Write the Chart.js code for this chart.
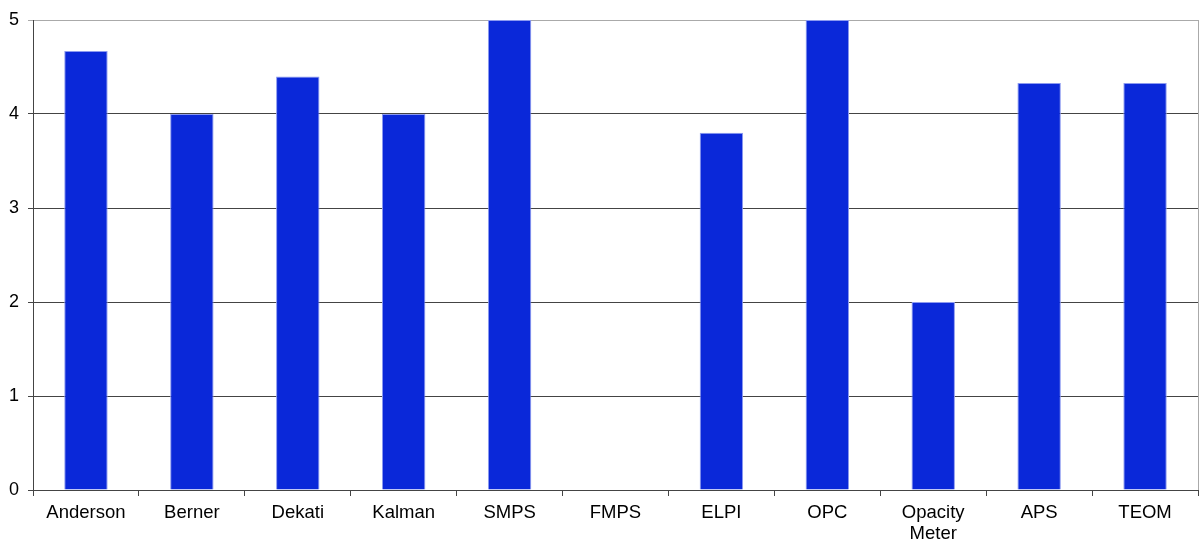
<!DOCTYPE html>
<html>
<head>
<meta charset="utf-8">
<script src="https://cdn.jsdelivr.net/npm/chart.js@4/dist/chart.umd.min.js"></script>
<style>
  html, body { margin: 0; padding: 0; background: #fff; }
  #wrap { width: 1203px; height: 540px; position: relative; }
</style>
</head>
<body>
<div id="wrap"><canvas id="barChart"></canvas></div>
<script>
const categories = ["Anderson", "Berner", "Dekati", "Kalman", "SMPS", "FMPS", "ELPI", "OPC", ["Opacity", "Meter"], "APS", "TEOM"];
const scores = [4.67, 4, 4.4, 4, 5, 0, 3.8, 5, 2, 4.33, 4.33];
const yTicks = [0, 1, 2, 3, 4, 5];

// light frame on the right side of the plot
const frame = {
    id: "frame",
    afterDraw(chart) {
        const { ctx, chartArea } = chart;
        ctx.save();
        ctx.strokeStyle = "#aaaaaa";
        ctx.lineWidth = 1;
        ctx.beginPath();
        ctx.moveTo(Math.round(chartArea.right) + 0.5, chartArea.top);
        ctx.lineTo(Math.round(chartArea.right) + 0.5, chartArea.bottom);
        ctx.stroke();
        ctx.restore();
    }
};

const ctx = document.getElementById("barChart").getContext("2d");
new Chart(ctx, {
    type: "bar",
    data: {
        labels: categories,
        datasets: [{
            data: scores,
            backgroundColor: "#0a28d9",
            borderColor: "#8c9af0",
            borderWidth: 1,
            categoryPercentage: 1,
            barPercentage: 0.41
        }]
    },
    options: {
        responsive: true,
        maintainAspectRatio: false,
        animation: false,
        layout: { padding: { top: 20, right: 5, left: 0, bottom: 0 } },
        plugins: {
            legend: { display: false },
            tooltip: { enabled: false }
        },
        scales: {
            x: {
                grid: {
                    offset: true,
                    drawOnChartArea: false,
                    tickLength: 6,
                    color: "#444"
                },
                border: { color: "#444", width: 1 },
                ticks: {
                    color: "#000",
                    maxRotation: 0,
                    padding: 7,
                    font: { family: "Liberation Sans, Arial, sans-serif", size: 18.5, lineHeight: 1.1 }
                },
                afterFit(scale) { scale.height = 50; }
            },
            y: {
                min: 0,
                max: 5,
                afterBuildTicks(scale) { scale.ticks = yTicks.map(v => ({ value: v })); },
                grid: {
                    color: c => (c.tick && c.tick.value === 5 ? "#aaaaaa" : "#444"),
                    tickLength: 5
                },
                border: { color: "#444", width: 1 },
                ticks: {
                    color: "#000",
                    padding: 9,
                    font: { family: "Liberation Sans, Arial, sans-serif", size: 18 }
                },
                afterFit(scale) { scale.width = 33; }
            }
        }
    },
    plugins: [frame]
});
</script>
</body>
</html>
